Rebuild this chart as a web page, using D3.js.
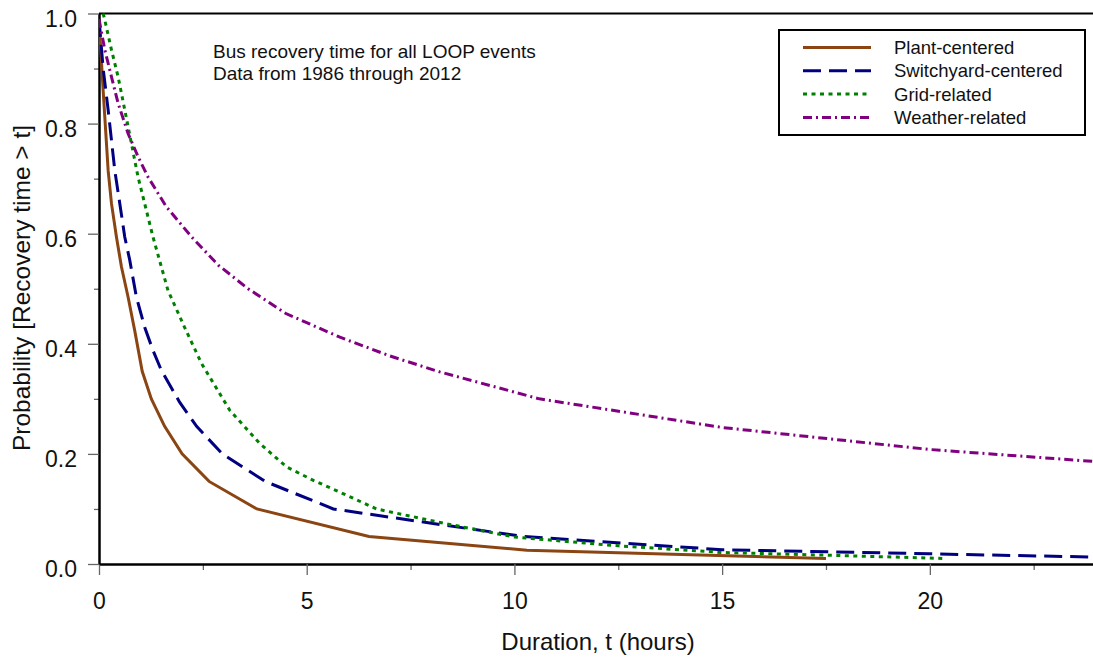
<!DOCTYPE html>
<html>
<head>
<meta charset="utf-8">
<script src="https://cdn.jsdelivr.net/npm/d3@7"></script>
<style>
	body { margin: 0; background: #fff; }
	svg { display: block; font-family: "Liberation Sans", Arial, sans-serif; }
</style>
</head>
<body>
<svg id="chart" width="1093" height="658"></svg>
<script>
// Curve data: [duration (h), probability]
const plantCentered = [[0, 0.99], [0.1, 0.86], [0.22, 0.715], [0.3, 0.655], [0.42, 0.594], [0.54, 0.54], [0.7, 0.485], [0.86, 0.424], [1.04, 0.35], [1.26, 0.30], [1.58, 0.25], [2.0, 0.2], [2.65, 0.15], [3.8, 0.10], [6.5, 0.05], [10.3, 0.025], [17.5, 0.01]];
const switchyardCentered = [[0, 0.99], [0.1, 0.9], [0.22, 0.825], [0.38, 0.715], [0.5, 0.655], [0.62, 0.594], [0.74, 0.552], [0.9, 0.485], [1.1, 0.43], [1.3, 0.388], [1.5, 0.352], [1.94, 0.294], [2.35, 0.25], [2.97, 0.2], [4.0, 0.15], [5.64, 0.10], [10.2, 0.05], [15, 0.026], [20, 0.0185], [24, 0.0125]];
const gridRelated = [[0.1, 1.0], [0.14, 0.988], [0.3, 0.934], [0.46, 0.885], [0.62, 0.825], [0.78, 0.764], [0.94, 0.703], [1.3, 0.594], [1.66, 0.497], [2.06, 0.43], [2.47, 0.364], [2.71, 0.334], [3.15, 0.279], [3.87, 0.219], [4.52, 0.176], [5.16, 0.152], [5.96, 0.125], [6.68, 0.10], [8.37, 0.073], [10.0, 0.049], [12.5, 0.033], [15, 0.021], [18, 0.015], [20.4, 0.01]];
const weatherRelated = [[0, 0.99], [0.14, 0.934], [0.3, 0.885], [0.46, 0.837], [0.7, 0.782], [0.94, 0.74], [1.18, 0.703], [1.62, 0.649], [2.23, 0.594], [2.87, 0.543], [3.59, 0.50], [4.5, 0.455], [5.8, 0.412], [7, 0.378], [8.2, 0.349], [10.6, 0.30], [13.4, 0.267], [15, 0.248], [20, 0.208], [24, 0.186]];

const seriesNames = ["Plant-centered", "Switchyard-centered", "Grid-related", "Weather-related"];
const seriesData = [plantCentered, switchyardCentered, gridRelated, weatherRelated];

const xMajorTicks = [0, 5, 10, 15, 20];
const xMinorTicks = [2.5, 7.5, 12.5, 17.5, 22.5];
const yMajorTicks = [0, 0.2, 0.4, 0.6, 0.8, 1.0];
const yMinorTicks = [0.1, 0.3, 0.5, 0.7, 0.9];

const titleLines = ["Bus recovery time for all LOOP events", "Data from 1986 through 2012"];

/**
 * Styles
 */
const styles = [
	{ color: "#8b4513", dash: null },
	{ color: "#000080", dash: "18,8" },
	{ color: "#008000", dash: "4,4.5" },
	{ color: "#800080", dash: "9,4,2,4" }
];

let svg = d3.select("#chart");
let plotLeft = 99, plotRight = 1096, plotTop = 13.5, plotBottom = 564;

let x = d3.scaleLinear().domain([0, 24]).range([plotLeft, plotRight]);
let y = d3.scaleLinear().domain([0, 1]).range([plotBottom, plotTop]);

// Clip curves to plot area
svg.append("defs").append("clipPath").attr("id", "plot")
	.append("rect")
	.attr("x", plotLeft).attr("y", plotTop - 10)
	.attr("width", plotRight - plotLeft).attr("height", plotBottom - plotTop + 10);

// Top frame line
svg.append("line")
	.attr("x1", plotLeft).attr("x2", plotRight)
	.attr("y1", plotTop).attr("y2", plotTop)
	.attr("stroke", "#000").attr("stroke-width", 2);

// Axes
let xMinor = svg.append("g").attr("transform", `translate(0,${plotBottom})`)
	.call(d3.axisBottom(x).tickValues(xMinorTicks).tickSize(6).tickSizeOuter(0).tickFormat(""));
let xMajor = svg.append("g").attr("transform", `translate(0,${plotBottom})`)
	.call(d3.axisBottom(x).tickValues(xMajorTicks).tickSize(11).tickSizeOuter(0).tickPadding(11).tickFormat(d3.format("d")));
let yMinor = svg.append("g").attr("transform", `translate(${plotLeft},0)`)
	.call(d3.axisLeft(y).tickValues(yMinorTicks).tickSize(5).tickSizeOuter(0).tickFormat(""));
let yMajor = svg.append("g").attr("transform", `translate(${plotLeft},0)`)
	.call(d3.axisLeft(y).tickValues(yMajorTicks).tickSize(11).tickSizeOuter(0).tickPadding(11).tickFormat(d3.format(".1f")));

[xMinor, xMajor, yMinor, yMajor].forEach(function(g) {
	g.select(".domain").attr("stroke", "#000").attr("stroke-width", 2.5);
	g.selectAll(".tick line").attr("stroke", "#666").attr("stroke-width", 1.3);
	g.selectAll(".tick text")
		.attr("fill", "#111")
		.style("font-size", "23px")
		.style("font-family", "'Liberation Sans', Arial, sans-serif");
});
xMajor.selectAll(".tick text").attr("dy", "1.0em");
yMajor.selectAll(".tick text").attr("dy", "0.56em");
[xMinor, yMinor].forEach(g => g.select(".domain").remove());

// Axis titles
svg.append("text")
	.attr("x", 598).attr("y", 650)
	.attr("text-anchor", "middle")
	.style("font-size", "24px").attr("fill", "#111")
	.text("Duration, t (hours)");

svg.append("text")
	.attr("transform", "translate(30,288) rotate(-90)")
	.attr("text-anchor", "middle")
	.style("font-size", "24.5px").attr("fill", "#111")
	.text("Probability [Recovery time > t]");

// Curves
let line = d3.line()
	.x(function(d) { return x(d[0]); })
	.y(function(d) { return y(d[1]); });

let curves = svg.append("g").attr("clip-path", "url(#plot)");
curves.selectAll("path.curve")
	.data(seriesData)
	.enter()
	.append("path")
	.attr("class", "curve")
	.attr("fill", "none")
	.attr("stroke", function(d, i) { return styles[i].color; })
	.attr("stroke-width", 3)
	.attr("stroke-dasharray", function(d, i) { return styles[i].dash; })
	.attr("d", line);

// Annotation text
svg.append("g").selectAll("text")
	.data(titleLines)
	.enter()
	.append("text")
	.attr("x", 213)
	.attr("y", function(d, i) { return 57.5 + i * 22.6; })
	.style("font-size", "19px").attr("fill", "#111")
	.text(function(d) { return d; });

// Legend
let legend = svg.append("g");
legend.append("rect")
	.attr("x", 779).attr("y", 30)
	.attr("width", 306).attr("height", 105)
	.attr("fill", "#fff").attr("stroke", "#000").attr("stroke-width", 2);

let rows = legend.selectAll("g.row")
	.data(seriesNames)
	.enter()
	.append("g")
	.attr("class", "row")
	.attr("transform", function(d, i) { return `translate(0,${47.5 + i * 23.3})`; });

rows.append("line")
	.attr("x1", 803).attr("x2", 871)
	.attr("stroke", function(d, i) { return styles[i].color; })
	.attr("stroke-width", 3)
	.attr("stroke-dasharray", function(d, i) { return styles[i].dash; });

rows.append("text")
	.attr("x", 894).attr("dy", "0.36em")
	.style("font-size", "18.5px").attr("fill", "#111")
	.text(function(d) { return d; });
</script>
</body>
</html>
